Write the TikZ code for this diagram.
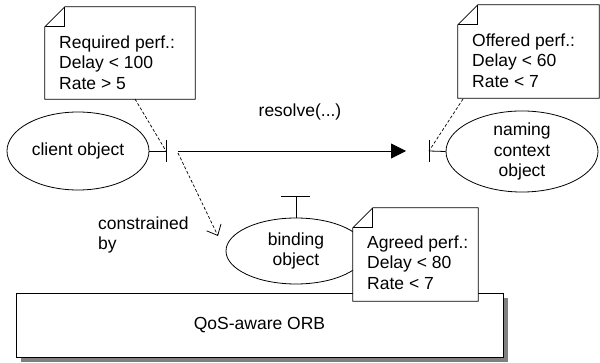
\documentclass[tikz,border=0pt]{standalone}
\usepackage{fontspec}
\setmainfont{Liberation Sans}
\usetikzlibrary{shapes.geometric,arrows.meta,calc}
\newcommand\dognote[1]{%
  \draw[notefold,fill=white] ($(#1.north west)+(0,20)$) -- ($(#1.north west)+(20,0)$) -- (#1.north east) -- (#1.south east) -- (#1.south west) -- cycle;
  \draw[notefold] ($(#1.north west)+(20,0)$) -- ($(#1.north west)+(20,20)$) -- ($(#1.north west)+(0,20)$);}
\definecolor{shadowgray}{HTML}{808080}
\begin{document}
\begin{tikzpicture}[x=1pt,y=-1pt,
  every node/.style={font=\fontsize{17.5}{20.5}\selectfont},
  obj/.style={draw,ellipse,inner sep=0pt,align=center,line width=0.8pt},
  notebox/.style={inner sep=0pt},
  notefold/.style={line width=0.8pt},
  notetxt/.style={align=left,anchor=west,inner sep=0pt},
  ln/.style={line width=0.8pt},
  dsh/.style={line width=0.7pt,dash pattern=on 3pt off 2pt}]
\useasboundingbox (0,0) rectangle (600,363);

% ORB with shadow
\fill[shadowgray] (21,298) rectangle (508,362);
\node[draw,fill=white,ln,minimum width=487pt,minimum height=64pt,inner sep=0pt] (orb) at (259.5,325) {QoS-aware ORB};

% objects
\node[obj,minimum width=142pt,minimum height=78pt] (client) at (78,151) {client object};
\node[obj,minimum width=152pt,minimum height=79pt] (naming) at (522,151.5) {naming\\context\\object};
\node[obj,minimum width=140pt,minimum height=66pt] (binding) at (296,251) {binding\\object};

% interfaces
\coordinate (cbar) at (166,151);
\draw[ln] (client.east) -- (cbar);
\draw[ln] ($(cbar)+(0,-11)$) -- ($(cbar)+(0,11)$);
\coordinate (nbar) at (429,151);
\draw[ln] (naming.west) -- (nbar);
\draw[ln] ($(nbar)+(0,-11)$) -- ($(nbar)+(0,11)$);
\coordinate (bbar) at (296,196);
\draw[ln] (binding.north) -- (bbar);
\draw[ln] ($(bbar)+(-15,0)$) -- ($(bbar)+(14,0)$);

% resolve arrow
\coordinate (rstart) at (178,151);
\coordinate (rend) at (406,151);
\draw[ln,-{Triangle[length=15pt,width=15pt]}] (rstart) -- (rend);
\node (resolve) at (300,112) {resolve(...)};

% constrained by
\coordinate (cstart) at (178,153);
\coordinate (cend) at (218,236);
\draw[dsh,-{Straight Barb[length=9pt,width=16pt,line width=0.8pt]}] (cstart) -- (cend);
\node[align=left,anchor=west,inner sep=0pt] (constr) at (98,235) {constrained\\by};

% notes
\node[notebox,minimum width=150pt,minimum height=92pt] (reqnote) at (120,53) {};
\dognote{reqnote}
\node[notetxt] (reqtext) at (59,62.5) {Required perf.:\\Delay < 100\\Rate > 5};

\node[notebox,minimum width=141pt,minimum height=93pt] (offnote) at (528.5,51.5) {};
\dognote{offnote}
\node[notetxt] (offtext) at (472,60.5) {Offered perf.:\\Delay < 60\\Rate < 7};

\node[notebox,minimum width=125pt,minimum height=93pt] (agrnote) at (415.5,254.5) {};
\dognote{agrnote}
\node[notetxt] (agrtext) at (367,262.5) {Agreed perf.:\\Delay < 80\\Rate < 7};

% note links
\draw[dsh] (135,99) -- (cbar);
\draw[dsh] (463,99) -- (nbar);
\end{tikzpicture}
\end{document}
